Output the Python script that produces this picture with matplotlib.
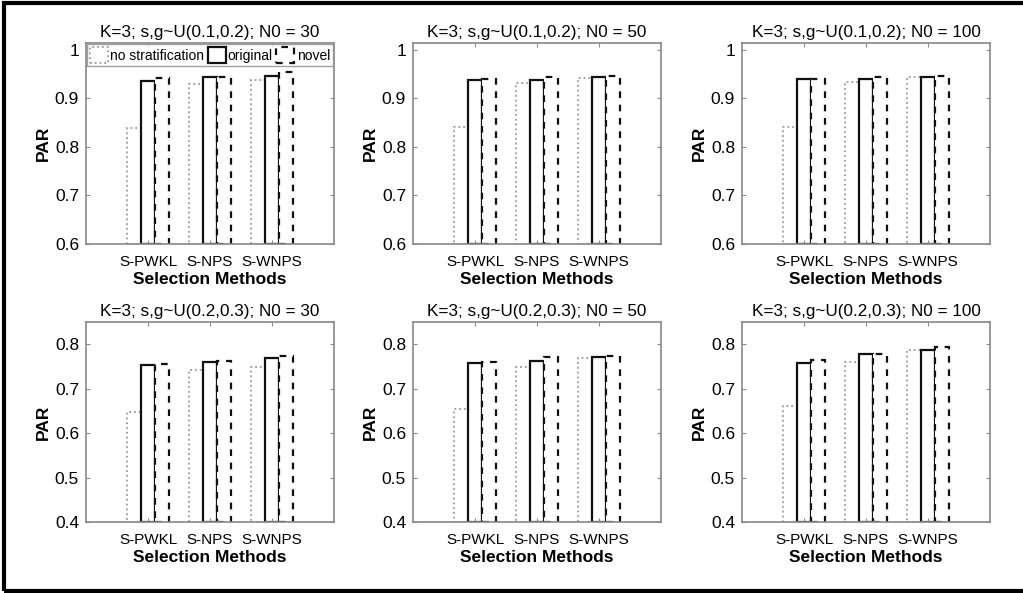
import numpy as np
import matplotlib.pyplot as plt
from matplotlib.patches import Rectangle

plt.rcParams['font.family'] = ['Liberation Sans', 'DejaVu Sans']

methods = ["S-PWKL", "S-NPS", "S-WNPS"]
series = ["no stratification", "original", "novel"]
titles = [
    "K=3; s,g~U(0.1,0.2); N0 = 30",
    "K=3; s,g~U(0.1,0.2); N0 = 50",
    "K=3; s,g~U(0.1,0.2); N0 = 100",
    "K=3; s,g~U(0.2,0.3); N0 = 30",
    "K=3; s,g~U(0.2,0.3); N0 = 50",
    "K=3; s,g~U(0.2,0.3); N0 = 100",
]

# rows: methods, cols: no stratification / original / novel
par_01_30 = [[0.838, 0.935, 0.942], [0.930, 0.943, 0.944], [0.938, 0.946, 0.954]]
par_01_50 = [[0.840, 0.937, 0.940], [0.931, 0.938, 0.943], [0.942, 0.943, 0.946]]
par_01_100 = [[0.841, 0.939, 0.939], [0.933, 0.939, 0.943], [0.943, 0.945, 0.946]]
par_02_30 = [[0.647, 0.754, 0.756], [0.741, 0.759, 0.763], [0.749, 0.769, 0.774]]
par_02_50 = [[0.654, 0.758, 0.759], [0.749, 0.762, 0.771], [0.769, 0.772, 0.774]]
par_02_100 = [[0.661, 0.758, 0.765], [0.759, 0.779, 0.779], [0.786, 0.788, 0.794]]
panels = [par_01_30, par_01_50, par_01_100, par_02_30, par_02_50, par_02_100]

W, H = 1023, 593
fig = plt.figure(figsize=(W / 100, H / 100), dpi=100)

# outer frame
fig.add_artist(Rectangle((4 / W, 2 / H), 1.2, 1 - 5 / H, transform=fig.transFigure,
                         fill=False, edgecolor='black', linewidth=3))

lefts = [86, 413, 742]
tops = [43, 322]
bottoms = [244, 522]
axw = 248

styles = [
    dict(edgecolor='#9a9a9a', linestyle=':', linewidth=1.3),
    dict(edgecolor='#111111', linestyle='-', linewidth=1.6),
    dict(edgecolor='#111111', linestyle=(0, (3, 3)), linewidth=1.6),
]
bw = 0.228
x = np.arange(1, len(methods) + 1)

for i, data in enumerate(panels):
    r, c = divmod(i, 3)
    ax = fig.add_axes([lefts[c] / W, (H - bottoms[r]) / H, axw / W, (bottoms[r] - tops[r]) / H])
    vals = np.array(data)
    ylo = 0.6 if r == 0 else 0.4
    for j in range(3):
        ax.bar(x + (j - 1) * bw, vals[:, j] - ylo, bw, bottom=ylo, facecolor='white',
               label=series[j], **styles[j])
    ax.set_xlim(0, 4)
    if r == 0:
        ax.set_ylim(0.6, 1.014)
        ax.set_yticks([0.6, 0.7, 0.8, 0.9, 1.0])
        ax.set_yticklabels(["0.6", "0.7", "0.8", "0.9", "1"])
    else:
        ax.set_ylim(0.4, 0.85)
        ax.set_yticks([0.4, 0.5, 0.6, 0.7, 0.8])
    ax.set_xticks(x)
    ax.set_xticklabels(methods)
    ax.tick_params(direction='in', top=True, right=True, length=3,
                   color='#888888')
    ax.tick_params(axis='x', labelsize=11, pad=8)
    ax.tick_params(axis='y', labelsize=12.5, pad=5)
    for s in ax.spines.values():
        s.set_color('#888888')
        s.set_linewidth(1.2)
    ax.set_title(titles[i], fontsize=12.3, pad=4)
    ax.set_ylabel("PAR", fontsize=12.5, fontweight='bold', labelpad=3)
    ax.set_xlabel("Selection Methods", fontsize=12.5, fontweight='bold', labelpad=2)
    if i == 0:
        leg = ax.legend(loc='upper center', bbox_to_anchor=(0.5, 0.995),
                        ncol=3, fontsize=10, frameon=True, fancybox=False, borderaxespad=0,
                        handlelength=1.3, handleheight=1.3, handletextpad=0.15,
                        columnspacing=0.25, borderpad=0.25)
        leg.get_frame().set_edgecolor('#888888')
        leg.get_frame().set_linewidth(1.0)

fig.savefig("out.png", dpi=100)
